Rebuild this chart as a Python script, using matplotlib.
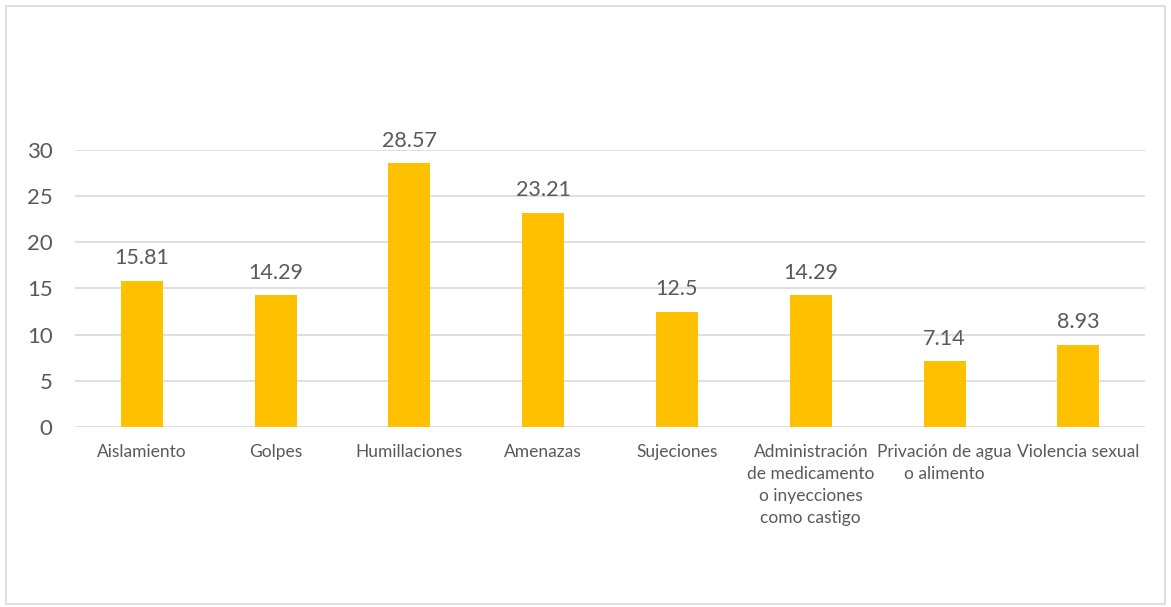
import matplotlib
matplotlib.use("Agg")
import matplotlib.pyplot as plt
from matplotlib.patches import Rectangle

categorias = ["Aislamiento", "Golpes", "Humillaciones", "Amenazas", "Sujeciones",
              "Administración\nde medicamento\no inyecciones\ncomo castigo",
              "Privación de agua\no alimento", "Violencia sexual"]
valores = [15.81, 14.29, 28.57, 23.21, 12.5, 14.29, 7.14, 8.93]
etiquetas = ["15.81", "14.29", "28.57", "23.21", "12.5", "14.29", "7.14", "8.93"]
yticks = [0, 5, 10, 15, 20, 25, 30]

gris = "#595959"
plt.rcParams["font.family"] = ["Lato", "DejaVu Sans"]

fig = plt.figure(figsize=(11.71, 6.07), dpi=100)
fig.patches.append(Rectangle((0.005, 0.005), 0.99, 0.985, transform=fig.transFigure,
                             fill=False, edgecolor="#D9D9D9", lw=1.2))
ax = fig.add_axes([0.064, 0.2965, 0.914, 0.4565])

x = range(len(categorias))
bars = ax.bar(x, valores, width=0.314, color="#FFC000", zorder=3)
for b, t in zip(bars, etiquetas):
    ax.annotate(t, (b.get_x() + b.get_width() / 2, b.get_height()), xytext=(0, 9),
                textcoords="offset points", ha="center", va="bottom", fontsize=15.5, color=gris)

ax.set_xlim(-0.5, len(categorias) - 0.5)
ax.set_ylim(0, 30)
ax.set_yticks(yticks)
ax.set_xticks(list(x))
ax.set_xticklabels(categorias, fontsize=12.5, color=gris, linespacing=1.48)
ax.tick_params(axis="y", labelsize=16, labelcolor=gris, length=0, pad=16)
ax.tick_params(axis="x", length=0, pad=12)
ax.grid(axis="y", color="#D9D9D9", lw=1.2, zorder=0)
for s in ax.spines.values():
    s.set_visible(False)

fig.savefig("out.png", dpi=100)
